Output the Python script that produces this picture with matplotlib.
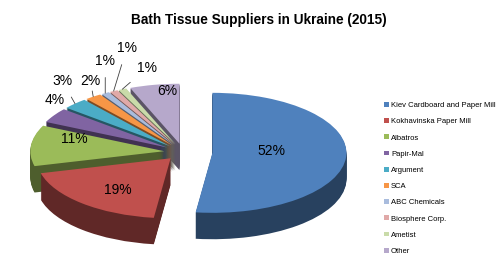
import matplotlib
matplotlib.use('Agg')
import matplotlib.pyplot as plt
import matplotlib.colors as mcolors
import numpy as np

suppliers = ['Kiev Cardboard and Paper Mill', 'Kokhavinska Paper Mill', 'Albatros',
             'Papir-Mal', 'Argument', 'SCA', 'ABC Chemicals', 'Biosphere Corp.',
             'Ametist', 'Other']
shares = [52, 19, 11, 4, 3, 2, 1, 1, 1, 6]
pct_labels = ['52%', '19%', '11%', '4%', '3%', '2%', '1%', '1%', '1%', '6%']

colors = ['#4F81BD', '#C0504D', '#9BBB59', '#8064A2', '#4BACC6', '#F79646',
          '#A9BCDD', '#E0A9A8', '#C9DBA9', '#B6A8CB']

plt.rcParams['font.family'] = ['Liberation Sans', 'DejaVu Sans']

fig = plt.figure(figsize=(5, 2.61), dpi=100)
ax = fig.add_axes([0, 0, 1, 1])

explode = [0.22] + [0.14] * (len(shares) - 1)
layers = 26
depth = 0.44
side_colors = [tuple(c * 0.5 for c in mcolors.to_rgb(col)) for col in colors]

# back-to-front order of the wedges (by vertical direction of the mid angle)
cum = np.cumsum(shares) - np.array(shares) / 2
mid = np.radians(90 - 360 * cum / sum(shares))
rank = np.argsort(np.argsort(-np.sin(mid)))

# side walls: stacked pies going down
for k in range(layers, 0, -1):
    wedges, _ = ax.pie(shares, explode=explode, colors=side_colors, startangle=90,
                       counterclock=False, center=(0, -k * depth / layers),
                       wedgeprops=dict(linewidth=0))
    for i, w in enumerate(wedges):
        w.set_zorder(1 + rank[i] * (layers + 2) + (layers - k))

# top faces
tops, _ = ax.pie(shares, explode=explode, colors=colors, startangle=90,
                 counterclock=False, wedgeprops=dict(linewidth=0))
for i, w in enumerate(tops):
    w.set_zorder(1 + rank[i] * (layers + 2) + layers + 1)

# label positions (data units)
label_xy = [(0.66, 0.02), (-0.49, -0.63), (-0.81, 0.22), (-0.955, 0.87),
            (-0.90, 1.18), (-0.69, 1.18), (-0.58, 1.52), (-0.42, 1.73),
            (-0.27, 1.40), (-0.12, 1.02)]
leader = [False, False, False, False, True, True, True, True, True, False]
for i, w in enumerate(tops):
    th = np.radians((w.theta1 + w.theta2) / 2)
    edge = (w.center[0] + w.r * np.cos(th), w.center[1] + w.r * np.sin(th))
    if leader[i]:
        ax.annotate(pct_labels[i], xy=edge, xytext=label_xy[i], fontsize=10,
                    ha='center', va='center', zorder=1000,
                    arrowprops=dict(arrowstyle='-', color='#404040', lw=0.6,
                                    shrinkA=5, shrinkB=0))
    else:
        ax.text(*label_xy[i], pct_labels[i], fontsize=10, ha='center',
                va='center', zorder=1000)

ax.set_aspect('auto')
ax.set_xlim(-183 / 134, 317 / 134)
ax.set_ylim(-109 / 60, 152 / 60)
ax.axis('off')

fig.text(0.517, 0.923, 'Bath Tissue Suppliers in Ukraine (2015)', fontsize=9.8,
         fontweight='bold', ha='center', va='center')

fig.legend(tops, suppliers, loc='upper left', bbox_to_anchor=(0.762, 0.621),
           frameon=False, fontsize=5.5, handlelength=0.6, handleheight=0.6,
           handletextpad=0.3, labelspacing=1.19, borderaxespad=0)

fig.savefig('out.png', dpi=100)
